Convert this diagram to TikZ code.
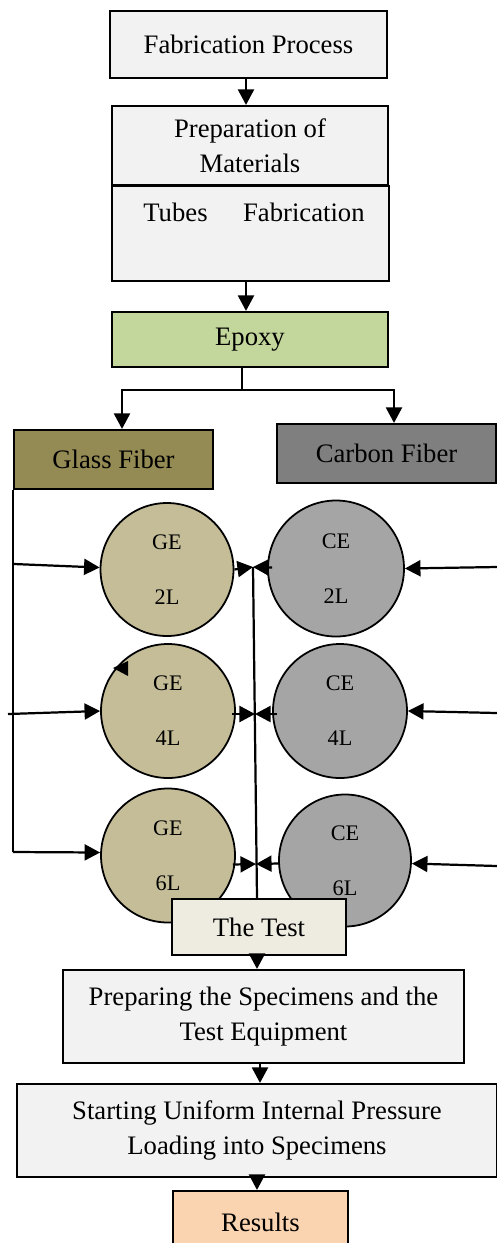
\documentclass[tikz,border=0pt]{standalone}
\usepackage{fontspec}
\setmainfont{Liberation Serif}
\usetikzlibrary{arrows.meta,calc}
\definecolor{lgray}{HTML}{F2F2F2}
\definecolor{epoxyc}{HTML}{C3D69B}
\definecolor{glassc}{HTML}{948A54}
\definecolor{carbonc}{HTML}{7F7F7F}
\definecolor{gec}{HTML}{C4BD97}
\definecolor{cec}{HTML}{A5A5A5}
\definecolor{testc}{HTML}{EEECE1}
\definecolor{resc}{HTML}{FAD4B0}
\tikzset{
  box/.style={draw, line width=0.95pt, inner sep=0pt, align=center, font=\fontsize{12}{15.6}\selectfont},
  disc/.style={circle, draw, line width=0.8pt, inner sep=0pt, align=center, minimum size={#1*0.45pt}, font=\fontsize{10}{24.75}\selectfont},
  arr/.style={line width=1pt, -{Triangle[length=7pt,width=7.2pt]}},
  ln/.style={line width=1pt}
}
\begin{document}
\begin{tikzpicture}[x=0.45pt,y=-0.45pt]
\useasboundingbox (0,0) rectangle (497,1243);
% top chain
\node[box, fill=lgray, minimum width={277*0.45pt}, minimum height={67*0.45pt}] (fab) at (248.5,44.5) {Fabrication Process};
\node[box, fill=lgray, minimum width={277*0.45pt}, minimum height={95*0.45pt}] (tubes) at (250.5,233.5) {};
\node[font=\fontsize{12}{15.6}\selectfont, inner sep=0pt] (tubestext) at (254,212) {Tubes\hspace{13pt} Fabrication};
\node[box, fill=lgray, minimum width={276*0.45pt}, minimum height={79*0.45pt}] (prep) at (250,145.5) {Preparation of\\Materials};
\node[box, fill=epoxyc, minimum width={276*0.45pt}, minimum height={55*0.45pt}] (epoxy) at (250,339.5) {Epoxy};
\node[box, fill=glassc, minimum width={199*0.45pt}, minimum height={59*0.45pt}] (glass) at (113.5,459.5) {Glass Fiber};
\node[box, fill=carbonc, minimum width={219*0.45pt}, minimum height={59*0.45pt}] (carbon) at (386.5,453.5) {Carbon Fiber};
\draw[arr] (fab.south -| 246,0) -- (prep.north -| 246,0);
\draw[arr] (tubes.south -| 246,0) -- (epoxy.north -| 246,0);
\coordinate (split) at (242,390);
\draw[ln] (epoxy.south -| split) -- (split);
\draw[arr] (split) -| ($(glass.north)+(8.5,0)$);
\draw[arr] (split) -| ($(carbon.north)+(7.5,0)$);
% circles
\node[disc=133, fill=gec] (ge2) at (167,569.5) {GE\\2L};
\node[disc=136, fill=cec] (ce2) at (336,568.5) {CE\\2L};
\node[disc=134, fill=gec] (ge4) at (168,711) {GE\\4L};
\node[disc=134, fill=cec] (ce4) at (340,711) {CE\\4L};
\node[disc=134, fill=gec] (ge6) at (168,855.5) {GE\\6L};
\node[disc=132, fill=cec] (ce6) at (345,860.5) {CE\\6L};
\fill (113,668) -- (128,661) -- (128,676) -- cycle;
% left feed
\draw[ln] (glass.south west) -- (glass.south west |- 0,852);
\draw[arr] (glass.south west |- 0,852) -- ($(ge6.west)+(0,-3)$);
\coordinate (g2in) at (14,564);
\coordinate (g4in) at (8,714);
\draw[arr] (g2in) -- ($(ge2.west)+(0,-2)$);
\draw[arr] (g4in) -- (ge4.west);
% right feed
\coordinate (c2in) at (497,567);
\coordinate (c4in) at (497,713);
\coordinate (c6in) at (497,866);
\draw[arr] (c2in) -- (ce2.east);
\draw[arr] (c4in) -- (ce4.east);
\draw[arr] (c6in) -- ($(ce6.east)+(0,3)$);
% middle
\coordinate (m2) at (253,567);
\coordinate (m4) at (255,714);
\coordinate (m6) at (256,864);
\draw[arr] (ge2.east) -- (m2);
\draw[arr] ($(ce2.west)+(5,-1)$) -- (m2);
\draw[arr] ($(ge4.east)+(-4,3)$) -- (m4);
\draw[arr] ($(ce4.west)+(5,3)$) -- (m4);
\draw[arr] ($(ge6.east)+(-3,9)$) -- (m6);
\draw[arr] ($(ce6.west)+(0,3)$) -- (m6);
% bottom chain
\node[box, fill=testc, minimum width={174*0.45pt}, minimum height={56*0.45pt}] (test) at (259,927) {The Test};
\draw[ln] (m2) -- (test.north -| 257,0);
\node[box, fill=lgray, minimum width={401*0.45pt}, minimum height={93*0.45pt}] (preparing) at (263.5,1016.5) {Preparing the Specimens and the\\Test Equipment};
\node[box, fill=lgray, minimum width={480*0.45pt}, minimum height={93*0.45pt}] (starting) at (257,1130.5) {Starting Uniform Internal Pressure\\Loading into Specimens};
\node[box, fill=resc, minimum width={175*0.45pt}, minimum height={62*0.45pt}] (results) at (260.5,1222) {Results};
\draw[arr] (test.south -| 257,0) -- (preparing.north -| 257,0);
\draw[arr] (preparing.south -| 260,0) -- (starting.north -| 260,0);
\draw[arr] (starting.south -| 257,0) -- (results.north -| 257,0);
\end{tikzpicture}
\end{document}
